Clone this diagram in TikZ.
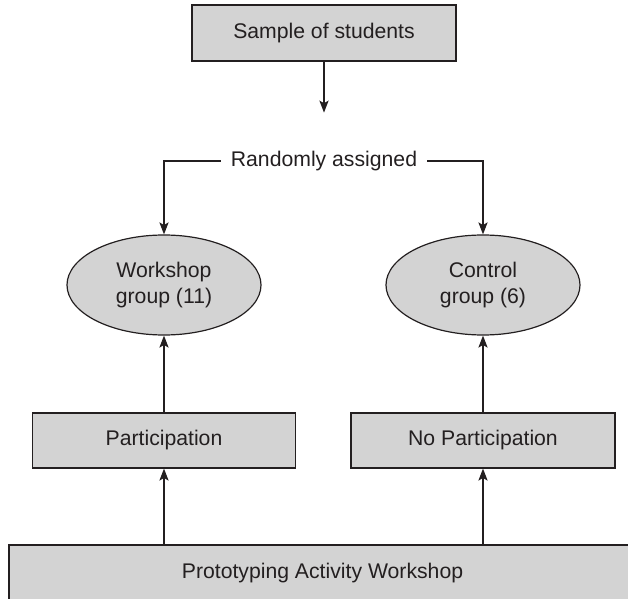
\documentclass[tikz,border=0pt]{standalone}
\usepackage{fontspec}
\setmainfont{Liberation Sans}
\usetikzlibrary{arrows.meta, positioning, shapes.geometric}
\definecolor{boxgray}{RGB}{211, 211, 211}
\definecolor{inkgray}{RGB}{35, 31, 32}

\begin{document}
\begin{tikzpicture}[
  x=0.5pt, y=-0.5pt,
  every node/.style={font=\fontsize{10.6}{12.8}\selectfont, text=inkgray, align=center, inner sep=0pt},
  stage/.style={draw=inkgray, fill=boxgray, line width=0.6pt, minimum height=28pt},
  group/.style={ellipse, draw=inkgray, fill=boxgray, line width=0.6pt, minimum width=97pt, minimum height=50pt},
  arr/.style={-{Stealth[length=6pt, width=4.6pt, inset=1.3pt]}, line width=0.6pt, draw=inkgray}
]
  \useasboundingbox (0,0) rectangle (628,599);

  % Allocation
  \node[stage, minimum width=132pt] (sample) at (324, 33) {Sample of students};
  \node[minimum height=48pt, inner xsep=5pt] (rand) at (324, 161) {Randomly assigned};

  % Groups
  \node[group] (workshop) at (164, 285) {Workshop\\group (11)};
  \node[group] (control)  at (483, 285) {Control\\group (6)};

  % Conditions
  \node[stage, minimum width=131.5pt, minimum height=27.5pt] (part)   at (164, 440.5) {Participation};
  \node[stage, minimum width=132pt, minimum height=27.5pt]   (nopart) at (483, 440.5) {No Participation};
  \node[stage, minimum width=313.5pt, minimum height=28pt]   (proto)  at (322.5, 573) {Prototyping Activity Workshop};

  % Arrows
  \draw[arr] (sample) -- (rand);
  \draw[arr] (rand.west) -| (workshop.north);
  \draw[arr] (rand.east) -| (control.north);
  \draw[arr] (part) -- (workshop);
  \draw[arr] (nopart) -- (control);
  \draw[arr] (part |- proto.north) -- (part.south);
  \draw[arr] (nopart |- proto.north) -- (nopart.south);
\end{tikzpicture}
\end{document}
